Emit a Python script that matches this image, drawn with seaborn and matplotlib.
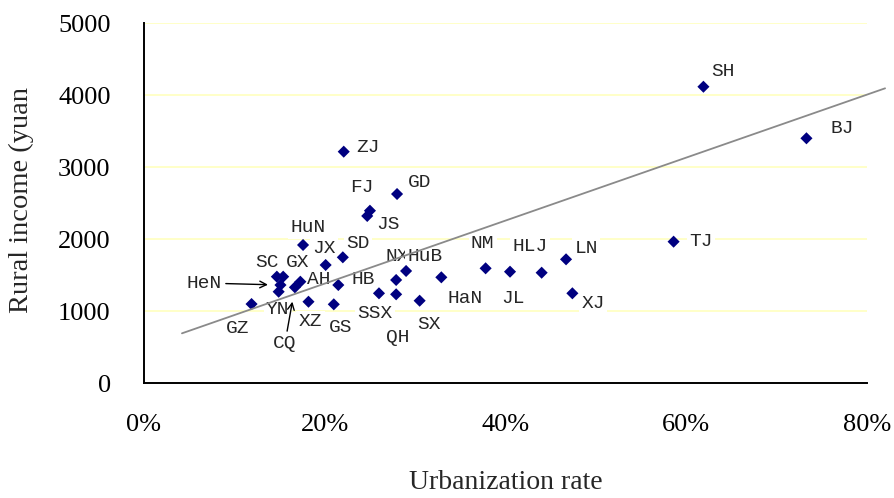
import numpy as np
import pandas as pd
import matplotlib
matplotlib.use("Agg")
import matplotlib.pyplot as plt
import seaborn as sns

# ---- data ----
provinces = ["SH", "BJ", "TJ", "ZJ", "GD", "FJ", "JS", "HuN", "JX", "SD",
             "HB", "NX", "HuB", "HaN", "SSX", "QH", "SX", "GS", "XZ", "GZ",
             "NM", "JL", "HLJ", "LN", "XJ", "SC", "GX", "HeN", "YN", "AH", "CQ"]
urbanization = [61.9, 73.3, 58.6, 22.1, 28.0, 25.0, 24.7, 17.6, 20.1, 22.0,
                21.5, 27.9, 29.0, 32.9, 26.0, 27.9, 30.5, 21.0, 18.2, 11.9,
                37.8, 40.5, 44.0, 46.7, 47.4, 14.7, 15.4, 15.1, 14.9, 17.3, 16.7]
rural_income = [4119, 3403, 1967, 3217, 2629, 2397, 2324, 1921, 1643, 1750,
                1365, 1435, 1560, 1472, 1250, 1236, 1147, 1097, 1133, 1101,
                1597, 1550, 1536, 1722, 1250, 1481, 1481, 1365, 1272, 1411, 1333]
trend_x = [4.2, 82.0]
trend_y = [694, 4097]
x_ticks = [0, 20, 40, 60, 80]
x_tick_labels = ["0%", "20%", "40%", "60%", "80%"]
y_ticks = [0, 1000, 2000, 3000, 4000, 5000]

# label offsets in pixels (dx right, dy down) relative to each point
label_offsets = {
    "SH": (20, -15), "BJ": (36, -10), "TJ": (27, 0), "ZJ": (24, -4),
    "GD": (23, -12), "FJ": (-8, -23), "JS": (21, 9), "HuN": (5, -17),
    "JX": (-2, -17), "SD": (15, -14), "HB": (25, -6), "NX": (1, -23),
    "HuB": (19, -14), "HaN": (24, 21), "SSX": (-4, 20), "QH": (2, 43),
    "SX": (9, 24), "GS": (7, 23), "XZ": (2, 20), "GZ": (-14, 24),
    "NM": (-3, -25), "JL": (3, 27), "HLJ": (-12, -26), "LN": (20, -11),
    "XJ": (21, 10), "SC": (-10, -14), "GX": (14, -14), "YN": (-1, 18),
    "AH": (18, -2), "HeN": (-76, -2), "CQ": (-10, 56),
}
arrow_labels = {"HeN": 9.0, "CQ": 10.5}

sns.set_theme(style="white")
plt.rcParams['font.family'] = ['Liberation Serif', 'DejaVu Serif']

fig = plt.figure(figsize=(8.95, 4.98), dpi=100)
ax = fig.add_axes([144 / 895, 114.7 / 498, 723 / 895, 360 / 498])

df = pd.DataFrame({"province": provinces, "urbanization": urbanization,
                   "income": rural_income})

ax.yaxis.grid(True, color="#FFFFC4", lw=1.3, zorder=0)
ax.set_axisbelow(True)

sns.scatterplot(data=df, x="urbanization", y="income", marker="D", s=38,
                color="#000080", edgecolor="none", linewidth=0, ax=ax,
                zorder=3, legend=False)
sns.lineplot(x=trend_x, y=trend_y, ax=ax, color="#8a8a8a", lw=1.3,
             zorder=4, clip_on=False)

for name, xv, yv in zip(provinces, urbanization, rural_income):
    dx, dy = label_offsets[name]
    kw = {}
    if name in arrow_labels:
        kw["arrowprops"] = dict(arrowstyle="->", color="black", lw=1.0,
                                shrinkA=1, shrinkB=arrow_labels[name],
                                mutation_scale=12)
    ax.annotate(name, (xv, yv), xytext=(dx, -dy), textcoords="offset pixels",
                ha="center", va="center", fontsize=14,
                family=["Liberation Mono", "DejaVu Sans Mono"],
                bbox=dict(boxstyle="square,pad=0.12", fc="white", ec="none"),
                zorder=2, **kw)

ax.set_xlim(0, 80)
ax.set_ylim(0, 5000)
ax.set_xticks(x_ticks, labels=x_tick_labels)
ax.set_yticks(y_ticks)
ax.tick_params(axis="both", direction="in", length=5.8, width=1.1,
               colors="black", labelsize=19)
ax.tick_params(axis="x", pad=22)
ax.tick_params(axis="y", pad=24)

for s in ["top", "right"]:
    ax.spines[s].set_visible(False)
for s in ["left", "bottom"]:
    ax.spines[s].set_color("black")
    ax.spines[s].set_linewidth(1.4)

ax.set_xlabel("Urbanization rate", fontsize=20)
ax.set_ylabel("Rural income (yuan", fontsize=20.5)
ax.xaxis.set_label_coords(0.5, -0.24)
ax.yaxis.set_label_coords(-0.152, 0.51)

fig.savefig("out.png", dpi=100, facecolor="white")
